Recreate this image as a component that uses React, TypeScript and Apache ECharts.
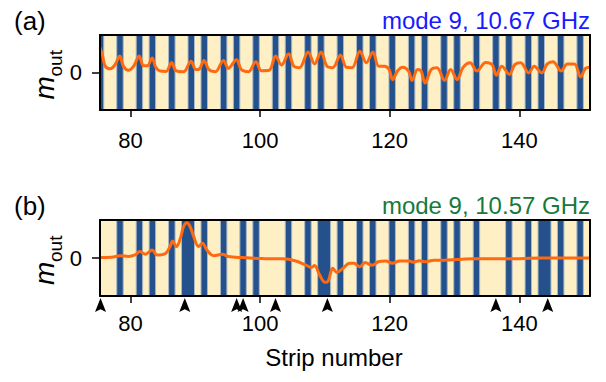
import React, { useEffect, useRef } from 'react';
import * as echarts from 'echarts';

// ---------- data ----------
const stripsA = [75, 78, 81, 83, 86, 89, 91, 94, 96, 99, 102, 104, 107, 109, 112, 115, 117, 120, 123, 125, 128, 130, 133, 136, 138, 141, 143, 146, 149];
const stripsB = [78, 81, 83, 86, 88, 89, 91, 94, 97, 99, 104, 107, 109, 110, 112, 115, 117, 120, 123, 125, 128, 130, 133, 138, 141, 143, 144, 146, 149];
const changedStrips = [75, 88, 96, 97, 102, 110, 136, 144];
const xTicks = [80, 100, 120, 140];
const yTicks = [0];
const titleA = 'mode 9, 10.67 GHz';
const titleB = 'mode 9, 10.57 GHz';

const profileA: [number, number][] = [
  [75.3, 0.67], [75.7, 0.45], [76.1, 0.17], [76.9, 0.10], [77.6, 0.20], [78.35, 0.44], [78.9, 0.17], [79.7, 0.06],
  [80.5, 0.17], [81.35, 0.44], [82.0, 0.18], [82.6, 0.18], [83.35, 0.39], [83.9, 0.14], [84.6, 0.04], [85.5, 0.03],
  [86.35, 0.27], [87.0, 0.05], [88.2, 0.02], [89.35, 0.30], [90.1, 0.08], [90.6, 0.09], [91.35, 0.32], [92.1, 0.08],
  [93.1, 0.02], [94.35, 0.32], [95.1, 0.11], [96.35, 0.34], [97.1, 0.08], [98.2, 0.02], [99.35, 0.29], [100.2, 0.05],
  [101.4, 0.06], [102.4, 0.44], [103.3, 0.20], [104.4, 0.50], [105.2, 0.17], [106.1, 0.13], [107.4, 0.55], [108.4, 0.23],
  [109.4, 0.55], [110.3, 0.17], [111.2, 0.13], [112.4, 0.47], [113.3, 0.14], [114.2, 0.13], [115.4, 0.57], [116.4, 0.26],
  [117.4, 0.55], [118.3, 0.17], [119.2, 0.17], [119.9, 0.08], [120.45, -0.19], [121.2, 0.04], [122.0, 0.14], [122.9, 0.04],
  [123.45, -0.21], [124.3, 0.08], [124.85, 0.04], [125.45, -0.28], [126.4, 0.08], [127.3, 0.13], [128.45, -0.21], [129.4, 0.08],
  [130.4, -0.19], [131.3, 0.13], [132.4, 0.26], [133.45, 0.04], [134.8, 0.27], [135.8, 0.21], [136.45, -0.07], [137.3, 0.17],
  [138.45, -0.05], [139.3, 0.21], [140.2, 0.26], [141.45, -0.01], [142.3, 0.17], [143.45, -0.01], [144.3, 0.23], [145.2, 0.29],
  [146.45, 0.04], [147.4, 0.23], [148.5, 0.23], [149.45, -0.12], [150.2, 0.11], [150.9, 0.14],
];

const profileB: [number, number][] = [
  [75.3, 0.01], [77.1, 0.02], [78.4, 0.06], [79.7, 0.04], [80.7, 0.08], [81.45, 0.17], [82.3, 0.10], [83.35, 0.21],
  [84.1, 0.08], [85.4, 0.12], [86.1, 0.30], [86.5, 0.45], [87.1, 0.30], [87.7, 0.52], [88.2, 0.83], [88.7, 0.93],
  [89.2, 0.83], [89.75, 0.57], [90.5, 0.30], [91.1, 0.39], [91.8, 0.21], [92.8, 0.06], [94.2, 0.10], [95.1, 0.04],
  [97.2, 0.01], [99.8, -0.01], [101.3, -0.02], [103.5, -0.02], [105.5, -0.08], [107.1, -0.19], [107.9, -0.25], [108.4, -0.20],
  [109.2, -0.45], [110.0, -0.64], [110.5, -0.61], [111.2, -0.27], [111.85, -0.38], [112.8, -0.27], [113.8, -0.14], [114.5, -0.14],
  [115.35, -0.23], [116.2, -0.12], [117.3, -0.19], [118.2, -0.10], [119.4, -0.08], [120.4, -0.14], [121.5, -0.08], [123.0, -0.08],
  [123.6, -0.11], [124.6, -0.07], [125.5, -0.10], [126.8, -0.06], [128.45, -0.06], [130.4, -0.04], [133.0, -0.02], [138.2, -0.02],
  [143.3, 0.0], [150.9, 0.0],
];

// ---------- styling ----------
const X_MIN = 75.3;
const X_MAX = 150.9;
const Y_MIN = -1;
const Y_MAX = 1;
const STRIP_OFFSET = 0.38;
const YELLOW = '#fef0c4';
const BLUE = '#24518c';
const EDGE = '#a9b9c9';
const ORANGE = '#ff6a10';
const FONT = 'Liberation Sans';
const TICK_FS = 22;
const TEXT_FS = 24;

function runs(strips: number[]): [number, number][] {
  const out: [number, number][] = [];
  const s = [...strips].sort((a, b) => a - b);
  for (const n of s) {
    const last = out[out.length - 1];
    if (last && n === last[1] + 1) last[1] = n;
    else out.push([n, n]);
  }
  return out;
}

function stripSeries(strips: number[], idx: number) {
  return {
    type: 'custom',
    xAxisIndex: idx * 2,
    yAxisIndex: idx * 2,
    silent: true,
    z: 1,
    data: runs(strips),
    encode: { x: [0, 1] },
    renderItem: (params: any, api: any) => {
      const a = api.value(0) as number;
      const b = api.value(1) as number;
      const p1 = api.coord([a + STRIP_OFFSET - 0.5, Y_MAX]);
      const p2 = api.coord([b + STRIP_OFFSET + 0.5, Y_MIN]);
      const r = echarts.graphic.clipRectByRect(
        { x: p1[0], y: p1[1], width: p2[0] - p1[0], height: p2[1] - p1[1] },
        params.coordSys
      );
      if (!r) return null;
      return { type: 'rect', shape: r, style: { fill: BLUE, stroke: EDGE, lineWidth: 1 } };
    },
  };
}

function frameAxes(idx: number, labelMargin: number) {
  const lineStyle = { color: '#000', width: 2 };
  const x = [
    {
      type: 'value', gridIndex: idx, position: 'bottom', min: X_MIN, max: X_MAX, z: 10,
      axisLine: { show: true, onZero: false, lineStyle },
      axisTick: { show: true, customValues: xTicks, length: 7, lineStyle: { color: '#000', width: 1.5 } },
      axisLabel: { show: true, customValues: xTicks, fontSize: TICK_FS, fontFamily: FONT, color: '#000', margin: labelMargin },
      splitLine: { show: false },
    },
    {
      type: 'value', gridIndex: idx, position: 'top', min: X_MIN, max: X_MAX, z: 10,
      axisLine: { show: true, onZero: false, lineStyle },
      axisTick: { show: false }, axisLabel: { show: false }, splitLine: { show: false },
    },
  ];
  const y = [
    {
      type: 'value', gridIndex: idx, position: 'left', min: Y_MIN, max: Y_MAX, z: 10,
      axisLine: { show: true, onZero: false, lineStyle },
      axisTick: { show: true, customValues: yTicks, length: 8, lineStyle: { color: '#000', width: 1.5 } },
      axisLabel: { show: true, customValues: yTicks, fontSize: TICK_FS, fontFamily: FONT, color: '#000', margin: 18 },
      splitLine: { show: false },
    },
    {
      type: 'value', gridIndex: idx, position: 'right', min: Y_MIN, max: Y_MAX, z: 10,
      axisLine: { show: true, onZero: false, lineStyle },
      axisTick: { show: false }, axisLabel: { show: false }, splitLine: { show: false },
    },
  ];
  return { x, y };
}

function yLabel(cy: number) {
  return {
    type: 'group',
    x: 58,
    y: cy + 27,
    rotation: Math.PI / 2,
    children: [
      { type: 'text', x: 0, y: 0, style: { text: 'm', font: `italic 28px ${FONT}`, fill: '#000', textAlign: 'left', textVerticalAlign: 'bottom' } },
      { type: 'text', x: 23, y: 7, style: { text: 'out', font: `19px ${FONT}`, fill: '#000', textAlign: 'left', textVerticalAlign: 'bottom' } },
    ],
  };
}

export default function App() {
  const ref = useRef<HTMLDivElement>(null);
  useEffect(() => {
    if (!ref.current) return;
    const chart = echarts.init(ref.current, null, { renderer: 'svg' });
    const fa = frameAxes(0, 19);
    const fb = frameAxes(1, 16);
    const titleStyle = (color: string, size = TEXT_FS) => ({ fontSize: size, fontWeight: 'normal', color, fontFamily: FONT });
    const option: any = {
      animation: false,
      backgroundColor: '#fff',
      grid: [
        { left: 100, top: 35, width: 490, height: 75, show: true, backgroundColor: YELLOW, borderWidth: 0 },
        { left: 100, top: 220, width: 490, height: 76, show: true, backgroundColor: YELLOW, borderWidth: 0 },
      ],
      xAxis: [...fa.x, ...fb.x],
      yAxis: [...fa.y, ...fb.y],
      title: [
        { text: '(a)', left: 14, top: 8, padding: 0, textStyle: titleStyle('#000', 26) },
        { text: titleA, right: 16, top: 8, padding: 0, textStyle: titleStyle('#1a1aff') },
        { text: '(b)', left: 14, top: 193, padding: 0, textStyle: titleStyle('#000', 26) },
        { text: titleB, right: 16, top: 193, padding: 0, textStyle: titleStyle('#167a3a') },
      ],
      graphic: [
        yLabel(72.5),
        yLabel(258),
        { type: 'text', x: 334, y: 345, style: { text: 'Strip number', font: `${TEXT_FS}px ${FONT}`, fill: '#000', textAlign: 'center' } },
      ],
      series: [
        stripSeries(stripsA, 0),
        stripSeries(stripsB, 1),
        {
          type: 'line', xAxisIndex: 0, yAxisIndex: 0, data: profileA, showSymbol: false, smooth: 0.35,
          lineStyle: { color: ORANGE, width: 3 }, z: 5, silent: true,
        },
        {
          type: 'line', xAxisIndex: 2, yAxisIndex: 2, data: profileB, showSymbol: false, smooth: 0.35,
          lineStyle: { color: ORANGE, width: 3 }, z: 5, silent: true,
        },
        {
          type: 'scatter', xAxisIndex: 2, yAxisIndex: 2, clip: false, silent: true, z: 12,
          data: changedStrips.map((n) => [n + STRIP_OFFSET, Y_MIN]),
          symbol: 'path://M5,0 L10,13 L5,10.5 L0,13 Z',
          symbolSize: [11, 14],
          symbolOffset: [0, 9],
          itemStyle: { color: '#000', opacity: 1 },
        },
      ],
    };
    chart.setOption(option);
    return () => chart.dispose();
  }, []);
  return <div ref={ref} style={{ position: 'absolute', left: 0, top: 0, width: 606, height: 382 }} />;
}
